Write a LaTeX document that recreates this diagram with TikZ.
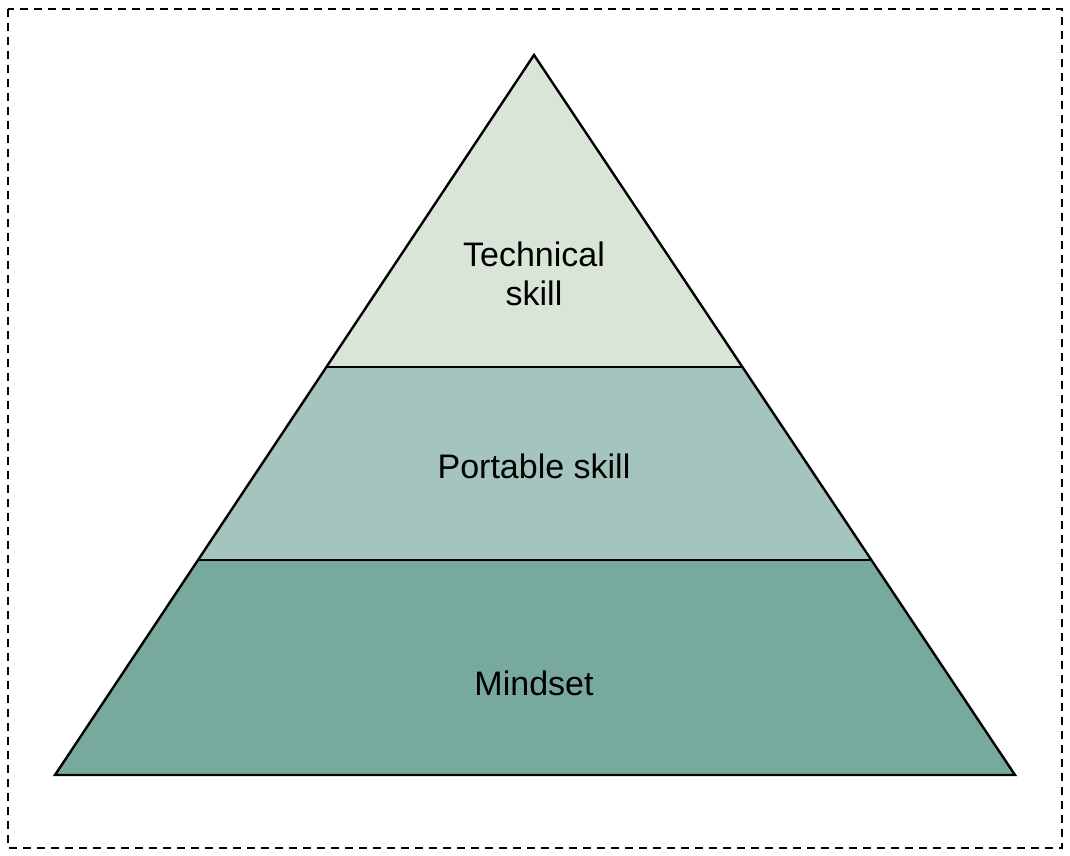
\documentclass[tikz,border=0pt]{standalone}
\usepackage{fontspec}
\setmainfont{Liberation Sans}
\definecolor{topc}{HTML}{D9E6D7}
\definecolor{midc}{HTML}{A3C5BD}
\definecolor{botc}{HTML}{78A99D}
\tikzset{
  layer/.style={draw=black, line width=2.4pt, line join=miter},
  lbl/.style={font=\fontsize{34}{39}\selectfont, align=center, text=black},
}
\begin{document}
\begin{tikzpicture}[x=1pt,y=-1pt]
\useasboundingbox (0,0) rectangle (1070,856);
\draw[line width=1.6pt, dash pattern=on 8pt off 6pt] (8,9) rectangle (1062,848);
\coordinate (apex) at (534,55);
\coordinate (bl) at (55,775);
\coordinate (br) at (1015,775);
\coordinate (l1) at (326.4,367);
\coordinate (r1) at (741.6,367);
\coordinate (l2) at (198,560);
\coordinate (r2) at (870,560);
\fill[botc] (l2) -- (r2) -- (br) -- (bl) -- cycle;
\fill[midc] (l1) -- (r1) -- (r2) -- (l2) -- cycle;
\fill[topc] (apex) -- (r1) -- (l1) -- cycle;
\draw[layer] (apex) -- (br) -- (bl) -- cycle;
\draw[layer] (l1) -- (r1);
\draw[layer] (l2) -- (r2);
\node[lbl] (t) at (534,274) {Technical\\skill};
\node[lbl] (p) at (534,466) {Portable skill};
\node[lbl] (m) at (534,683) {Mindset};
\end{tikzpicture}
\end{document}
